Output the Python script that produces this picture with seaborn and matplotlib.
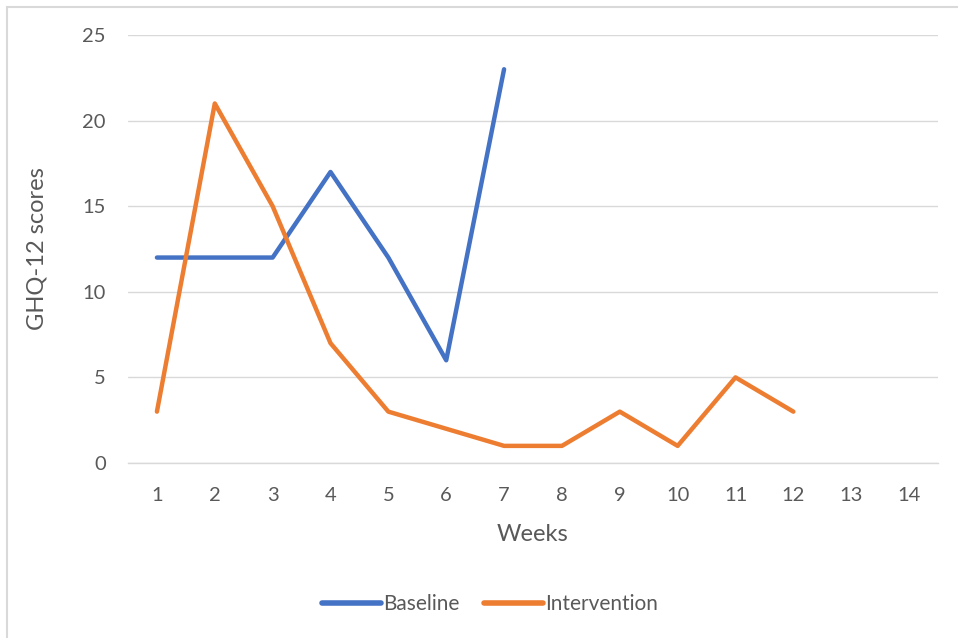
import matplotlib
matplotlib.use("Agg")
import matplotlib.pyplot as plt
import matplotlib.patches as mpatches
import seaborn as sns
import pandas as pd

weeks = list(range(1, 15))
baseline_weeks = [1, 2, 3, 4, 5, 6, 7]
baseline_scores = [12, 12, 12, 17, 12, 6, 23]
intervention_weeks = [1, 2, 3, 4, 5, 6, 7, 8, 9, 10, 11, 12]
intervention_scores = [3, 21, 15, 7, 3, 2, 1, 1, 3, 1, 5, 3]

df = pd.concat([
    pd.DataFrame({"Week": baseline_weeks, "Score": baseline_scores, "Phase": "Baseline"}),
    pd.DataFrame({"Week": intervention_weeks, "Score": intervention_scores, "Phase": "Intervention"}),
])

sns.set_theme(style="white")
plt.rcParams["font.family"] = ["Lato", "DejaVu Sans"]

fig = plt.figure(figsize=(9.58, 6.38), dpi=100)
ax = fig.add_axes([128 / 958, 1 - 463 / 638, (938 - 128) / 958, (463 - 35) / 638])

# outer chart frame
fig.patches.append(mpatches.Rectangle((7 / 958, -0.1), 1.2, 1 - 7 / 638 + 0.1,
                                      transform=fig.transFigure, fill=False,
                                      edgecolor="#D9D9D9", linewidth=1.5))

palette = {"Baseline": "#4472C4", "Intervention": "#ED7D31"}
sns.lineplot(data=df, x="Week", y="Score", hue="Phase", palette=palette,
             linewidth=3.2, ax=ax, legend=False)

ax.set_xlim(0.5, 14.5)
ax.set_ylim(0, 25)
ax.set_xticks(weeks)
ax.set_xticklabels([str(w) for w in weeks])
ax.set_yticks([0, 5, 10, 15, 20, 25])
ax.yaxis.grid(True, color="#D9D9D9", linewidth=1)
ax.xaxis.grid(False)
for s in ["top", "right", "left"]:
    ax.spines[s].set_visible(False)
ax.spines["bottom"].set_color("#D9D9D9")
ax.spines["bottom"].set_linewidth(1)
ax.tick_params(axis="both", length=0, labelsize=14.5, labelcolor="#595959")
ax.tick_params(axis="y", pad=16)
ax.tick_params(axis="x", pad=17.5)
ax.set_xlabel("Weeks", fontsize=17, color="#595959", labelpad=14)
ax.set_ylabel("GHQ-12 scores", fontsize=17, color="#595959", labelpad=25)

handles = [plt.Line2D([], [], color=palette[k], linewidth=4) for k in ["Baseline", "Intervention"]]
fig.legend(handles, ["Baseline", "Intervention"], loc="center", bbox_to_anchor=(490 / 958, 1 - 604 / 638),
           ncol=2, frameon=False, fontsize=15, labelcolor="#595959", handlelength=2.8,
           handletextpad=0.1, columnspacing=1.2)

fig.savefig("out.png", dpi=100, facecolor="white")
